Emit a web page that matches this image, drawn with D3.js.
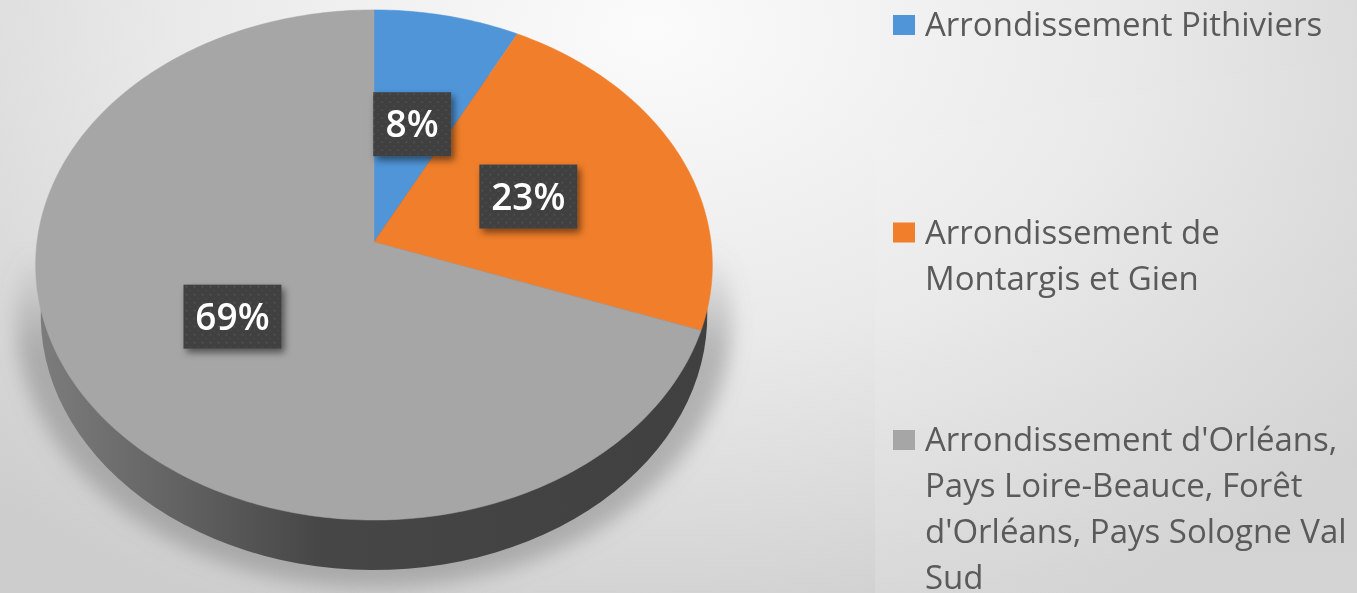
<!DOCTYPE html>
<html>
<head>
<meta charset="utf-8">
<script src="https://cdnjs.cloudflare.com/ajax/libs/d3/7.8.5/d3.min.js"></script>
<style>
    html, body { margin: 0; padding: 0; overflow: hidden; background: #e6e6e6; }
    svg { display: block; }
</style>
</head>
<body>
<div class="data_figure"></div>
<script>
const categories = ["Arrondissement Pithiviers", "Arrondissement de Montargis et Gien", "Arrondissement d'Orléans, Pays Loire-Beauce, Forêt d'Orléans, Pays Sologne Val Sud"];
const values = [7.6, 22.9, 69.5];
const valueLabels = ["8%", "23%", "69%"];
const legendLines = [
    ["Arrondissement Pithiviers"],
    ["Arrondissement de", "Montargis et Gien"],
    ["Arrondissement d'Orléans,", "Pays Loire-Beauce, Forêt", "d'Orléans, Pays Sologne Val", "Sud"]
];
const colors = ["#4f95d8", "#f07e2c", "#a6a6a6"];

const width = 1357;
const height = 593;

// centre of the pie and the perspective of the tilted disc
const apex = { x: 374, y: 242 };
const sx = 337, sy = 253, tilt = 0.09;
const depth = 50, depthShrink = 0.985;

function project(angle, r, low) {
    const u = r * Math.sin(angle),
        v = r * Math.cos(angle),
        w = 1 + tilt * v;
    return [
        apex.x + (low ? depthShrink : 1) * sx * u / w,
        apex.y - sy * v / w + (low ? depth : 0)
    ];
}

const line = d3.line();

function arcPoints(a0, a1, low) {
    const n = Math.max(2, Math.ceil((a1 - a0) * 60));
    return d3.range(n + 1).map((i) => project(a0 + (a1 - a0) * i / n, 1, low));
}

const svg = d3.select(".data_figure")
    .append("svg")
    .attr("width", width)
    .attr("height", height);

const defs = svg.append("defs");

const bg = defs.append("radialGradient")
    .attr("id", "bg")
    .attr("gradientUnits", "userSpaceOnUse")
    .attr("cx", 650).attr("cy", 30).attr("r", 640)
    .attr("gradientTransform", "translate(650,30) scale(1.5,1) translate(-650,-30)");
bg.append("stop").attr("offset", 0).attr("stop-color", "#fbfbfb");
bg.append("stop").attr("offset", 0.5).attr("stop-color", "#e9e9e9");
bg.append("stop").attr("offset", 1).attr("stop-color", "#cdcdcd");

const panel = defs.append("linearGradient")
    .attr("id", "panel")
    .attr("x1", 0).attr("x2", 0).attr("y1", 0).attr("y2", 1);
panel.append("stop").attr("offset", 0).attr("stop-color", "#fff").attr("stop-opacity", 0);
panel.append("stop").attr("offset", 1).attr("stop-color", "#fff").attr("stop-opacity", 0.14);

const wall = defs.append("linearGradient")
    .attr("id", "wall")
    .attr("gradientUnits", "userSpaceOnUse")
    .attr("x1", 40).attr("x2", 710).attr("y1", 0).attr("y2", 0);
wall.append("stop").attr("offset", 0).attr("stop-color", "#7c7c7c");
wall.append("stop").attr("offset", 0.2).attr("stop-color", "#636363");
wall.append("stop").attr("offset", 0.42).attr("stop-color", "#464646");
wall.append("stop").attr("offset", 1).attr("stop-color", "#404040");

const shadowFade = defs.append("linearGradient")
    .attr("id", "shadowFade")
    .attr("gradientUnits", "userSpaceOnUse")
    .attr("x1", 0).attr("x2", 0).attr("y1", 250).attr("y2", 350);
shadowFade.append("stop").attr("offset", 0).attr("stop-color", "#808080").attr("stop-opacity", 0);
shadowFade.append("stop").attr("offset", 1).attr("stop-color", "#808080").attr("stop-opacity", 0.5);

defs.append("filter").attr("id", "blur").attr("x", "-10%").attr("y", "-10%").attr("width", "120%").attr("height", "120%")
    .append("feGaussianBlur").attr("stdDeviation", 10);

defs.append("filter").attr("id", "soft")
    .append("feGaussianBlur").attr("stdDeviation", 0.6);

const boxShadow = defs.append("filter").attr("id", "boxShadow")
    .attr("x", "-20%").attr("y", "-20%").attr("width", "150%").attr("height", "150%");
boxShadow.append("feDropShadow")
    .attr("dx", 3).attr("dy", 4).attr("stdDeviation", 3.5)
    .attr("flood-color", "#000").attr("flood-opacity", 0.5);

const dots = defs.append("pattern")
    .attr("id", "dots")
    .attr("patternUnits", "userSpaceOnUse")
    .attr("width", 8).attr("height", 8);
dots.append("rect").attr("width", 8).attr("height", 8).attr("fill", "#404040");
dots.append("circle").attr("cx", 2).attr("cy", 2).attr("r", 0.9).attr("fill", "#555");
dots.append("circle").attr("cx", 6).attr("cy", 6).attr("r", 0.9).attr("fill", "#4a4a4a");

svg.append("rect")
    .attr("width", width)
    .attr("height", height)
    .attr("fill", "url(#bg)");

svg.append("rect")
    .attr("x", 875)
    .attr("width", width - 875)
    .attr("height", height)
    .attr("fill", "url(#panel)");

// soft shadow under the disc
const full = d3.range(0, 2 * Math.PI + 0.01, 0.05);
svg.append("ellipse")
    .attr("cx", apex.x)
    .attr("cy", 318)
    .attr("rx", 358)
    .attr("ry", 270)
    .attr("fill", "url(#shadowFade)")
    .attr("filter", "url(#blur)");

// side wall: the lower rim peeks out below the top face
svg.append("path")
    .attr("d", line(full.map((a) => project(a, 1, true))) + "Z")
    .attr("fill", "url(#wall)");

const pie = d3.pie().sort(null).value((d) => d);
const arcs = pie(values);

svg.append("g")
    .attr("class", "slices")
    .selectAll("path")
    .data(arcs)
    .enter()
    .append("path")
    .attr("d", (d) => line([[apex.x, apex.y]].concat(arcPoints(d.startAngle, d.endAngle, false))) + "Z")
    .attr("fill", (d, i) => colors[i])
    .attr("stroke", (d, i) => colors[i])
    .attr("stroke-width", 0.5)
    .attr("filter", "url(#soft)");

// value labels sit half way along each slice's middle angle
const label = svg.selectAll(".label")
    .data(arcs)
    .enter()
    .append("g")
    .attr("class", "label")
    .attr("transform", (d) => "translate(" + project((d.startAngle + d.endAngle) / 2, 0.5, false) + ")");

label.append("rect")
    .attr("x", (d, i) => -(valueLabels[i].length === 2 ? 39 : 49))
    .attr("y", -32)
    .attr("width", (d, i) => valueLabels[i].length === 2 ? 78 : 98)
    .attr("height", 64)
    .attr("fill", "url(#dots)")
    .attr("filter", "url(#boxShadow)");

label.append("text")
    .text((d, i) => valueLabels[i])
    .attr("text-anchor", "middle")
    .attr("y", 13)
    .attr("fill", "#fff")
    .attr("filter", "url(#soft)")
    .style("font-family", "'Open Sans', sans-serif")
    .style("font-weight", 600)
    .style("font-size", "37px");

// legend
const legendY = d3.scalePoint()
    .domain(categories)
    .range([25, 440]);

const lineHeight = 46;

const legend = svg.append("g")
    .attr("id", "legend")
    .attr("filter", "url(#soft)");

const entry = legend.selectAll(".entry")
    .data(categories)
    .enter()
    .append("g")
    .attr("class", "entry")
    .attr("transform", (d) => "translate(0," + legendY(d) + ")");

entry.append("rect")
    .attr("x", 893)
    .attr("y", -10)
    .attr("width", 22)
    .attr("height", 20)
    .attr("fill", (d, i) => colors[i]);

entry.selectAll("text")
    .data((d, i) => legendLines[i])
    .enter()
    .append("text")
    .text((d) => d)
    .attr("x", 925)
    .attr("y", (d, i) => 11 + i * lineHeight)
    .attr("fill", "#5a5a5a")
    .style("font-family", "'Open Sans', sans-serif")
    .style("font-size", "33px");
</script>
</body>
</html>
